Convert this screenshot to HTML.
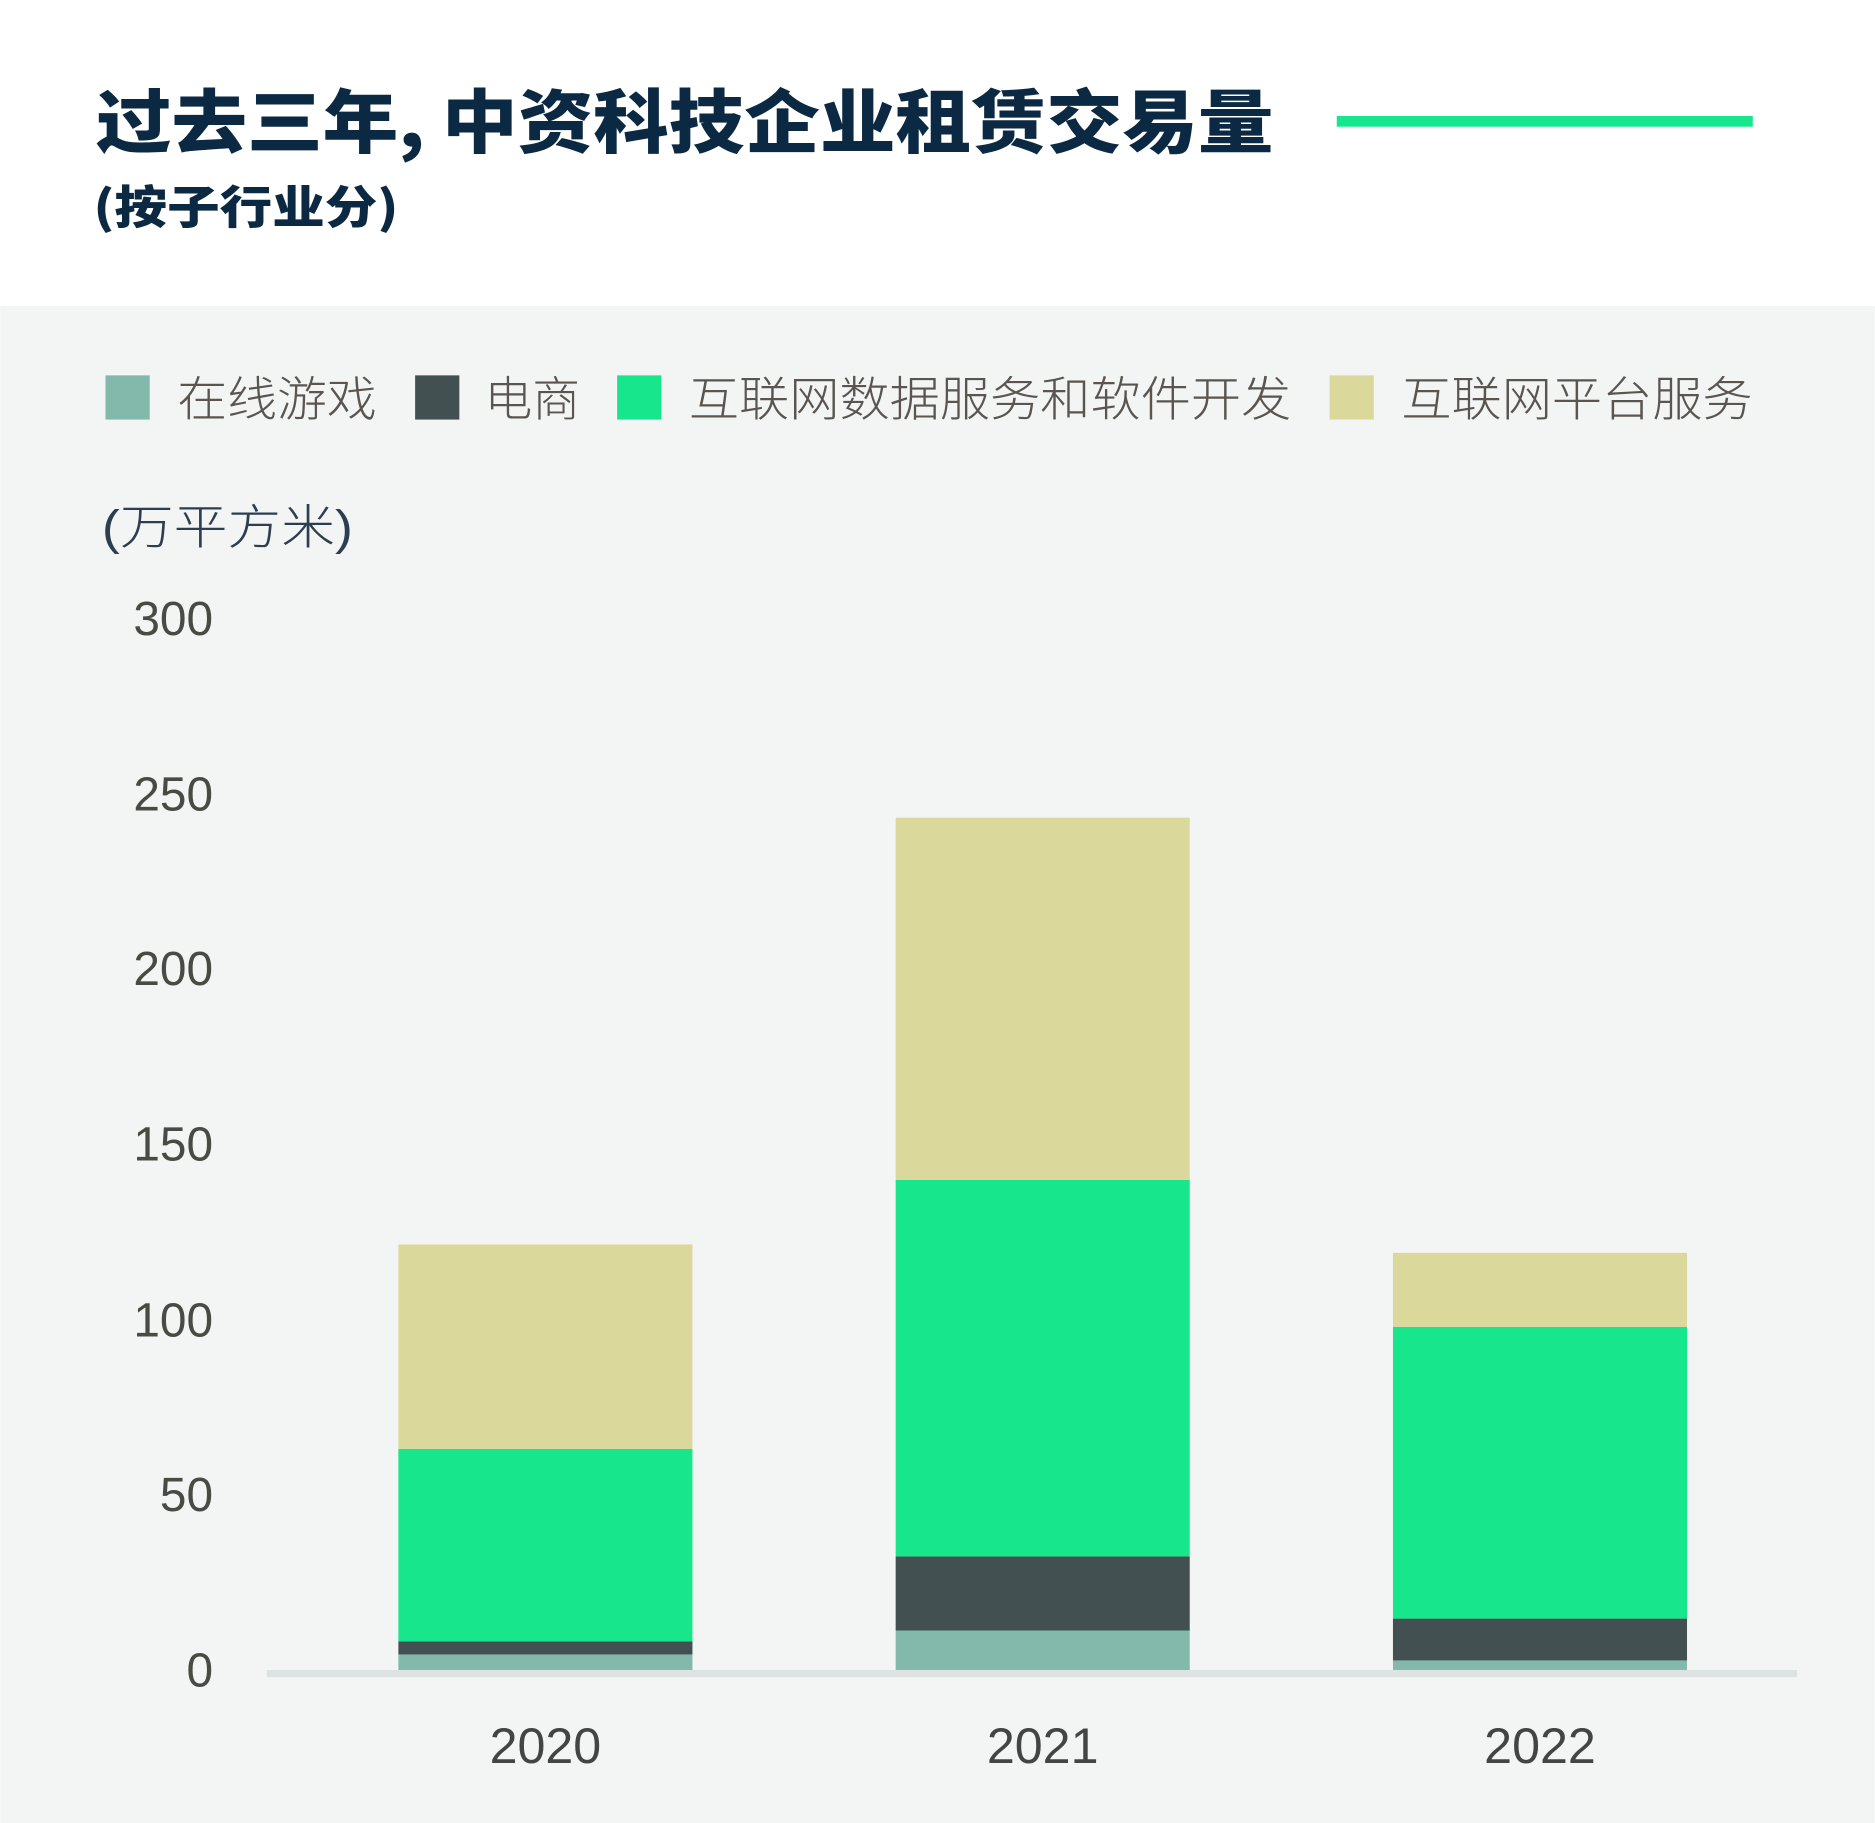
<!DOCTYPE html>
<html><head><meta charset="utf-8"><style>
html,body{margin:0;padding:0;background:#fff}
svg{display:block}
text{font-family:"Liberation Sans","Noto Sans CJK SC",sans-serif}
</style></head><body>
<svg width="1875" height="1823" viewBox="0 0 1568 1525" xmlns="http://www.w3.org/2000/svg">
<rect x="0" y="0" width="1568" height="1525" fill="#fff"/>
<rect x="0" y="256" width="1568" height="1269" fill="#f3f5f4"/>
<text x="80" y="123" font-size="58" fill="#0b2942" textLength="985" lengthAdjust="spacingAndGlyphs" style="font-family:'Noto Sans CJK SC',sans-serif;font-weight:900">过去三年, 中资科技企业租赁交易量</text>
<rect x="1118" y="97" width="348" height="9" fill="#18e68c"/>
<text x="78" y="187" font-size="38" fill="#0b2942" textLength="255" lengthAdjust="spacingAndGlyphs" style="font-family:'Noto Sans CJK SC',sans-serif;font-weight:900">(按子行业分)</text>
<g font-size="40" fill="#5a5550" style="font-weight:300" lengthAdjust="spacingAndGlyphs">
<rect x="88" y="314" width="37" height="37" fill="#82b9ab"/><text x="148" y="348" textLength="167" lengthAdjust="spacingAndGlyphs">在线游戏</text>
<rect x="347" y="314" width="37" height="37" fill="#435052"/><text x="405" y="348" textLength="80" lengthAdjust="spacingAndGlyphs">电商</text>
<rect x="516" y="314" width="37" height="37" fill="#18e68c"/><text x="576" y="348" textLength="504" lengthAdjust="spacingAndGlyphs">互联网数据服务和软件开发</text>
<rect x="1112" y="314" width="37" height="37" fill="#dbd89c"/><text x="1172" y="348" textLength="294" lengthAdjust="spacingAndGlyphs">互联网平台服务</text>
<text x="85" y="455" fill="#2c3e50" textLength="210" lengthAdjust="spacingAndGlyphs">(万平方米)</text>
</g>
<g font-size="40" fill="#4a4a44" text-anchor="end">
<text x="178" y="531">300</text><text x="178" y="678">250</text><text x="178" y="824">200</text>
<text x="178" y="971">150</text><text x="178" y="1118">100</text><text x="178" y="1264">50</text><text x="178" y="1411">0</text>
</g>
<rect x="333" y="1384" width="246" height="13" fill="#82b9ab"/>
<rect x="333" y="1373" width="246" height="11" fill="#435052"/>
<rect x="333" y="1212" width="246" height="161" fill="#18e68c"/>
<rect x="333" y="1041" width="246" height="171" fill="#dbd89c"/>
<rect x="749" y="1364" width="246" height="33" fill="#82b9ab"/>
<rect x="749" y="1302" width="246" height="62" fill="#435052"/>
<rect x="749" y="987" width="246" height="315" fill="#18e68c"/>
<rect x="749" y="684" width="246" height="303" fill="#dbd89c"/>
<rect x="1165" y="1389" width="246" height="8" fill="#82b9ab"/>
<rect x="1165" y="1354" width="246" height="35" fill="#435052"/>
<rect x="1165" y="1110" width="246" height="244" fill="#18e68c"/>
<rect x="1165" y="1048" width="246" height="62" fill="#dbd89c"/>
<rect x="223" y="1397" width="1280" height="6" fill="#dde3e3"/>
<g font-size="42" fill="#444" text-anchor="middle">
<text x="456" y="1475">2020</text><text x="872" y="1475">2021</text><text x="1288" y="1475">2022</text>
</g>
</svg>
</body></html>
